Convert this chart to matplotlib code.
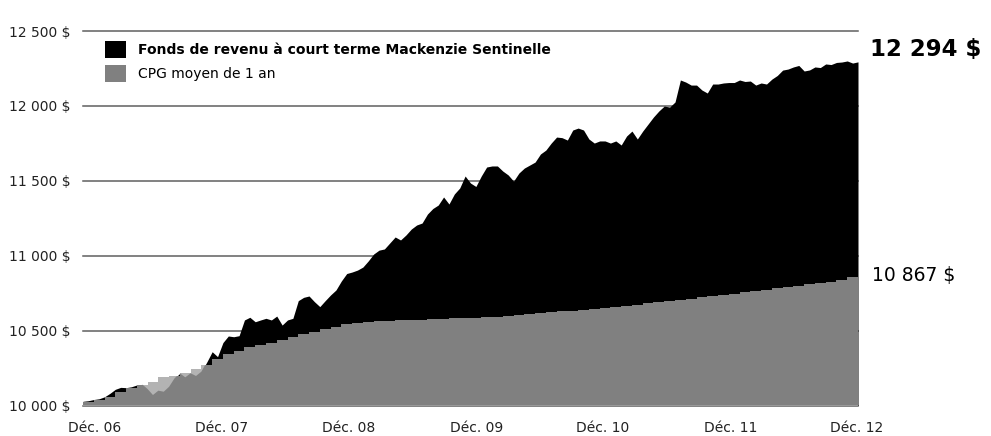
import numpy as np
import matplotlib
matplotlib.use("Agg")
import matplotlib.pyplot as plt
from matplotlib.patches import PathPatch, Patch

plt.rcParams["font.family"] = ["DejaVu Sans"]

# valeur du fonds, lue deux fois par mois (déc. 06 -> déc. 12)
fund_values = [
    10028, 10032, 10040, 10045, 10058, 10081, 10108, 10121, 10119, 10125,
    10137, 10141, 10110, 10070, 10099, 10092, 10125, 10181, 10215, 10188,
    10215, 10197, 10226, 10290, 10359, 10326, 10420, 10464, 10459, 10466,
    10571, 10589, 10559, 10571, 10582, 10571, 10597, 10537, 10571, 10582,
    10700, 10722, 10731, 10693, 10660, 10700, 10738, 10771, 10831, 10881,
    10891, 10904, 10924, 10965, 11011, 11037, 11045, 11085, 11125, 11105,
    11138, 11178, 11205, 11218, 11278, 11315, 11338, 11392, 11345, 11412,
    11452, 11532, 11485, 11462, 11532, 11592, 11599, 11599, 11565, 11539,
    11498, 11552, 11585, 11605, 11625, 11679, 11705, 11752, 11792, 11788,
    11772, 11839, 11852, 11839, 11779, 11752, 11766, 11766, 11752, 11766,
    11739, 11799, 11832, 11779, 11832, 11879, 11926, 11966, 11999, 11992,
    12026, 12173, 12159, 12139, 12139, 12106, 12086, 12146, 12146, 12153,
    12156, 12156, 12173, 12163, 12166, 12139, 12153, 12146, 12179, 12203,
    12239, 12246, 12260, 12270, 12233, 12240, 12260, 12256, 12280, 12276,
    12290, 12293, 12300, 12286, 12294,
]

# CPG moyen de 1 an, une marche par mois
cpg_values = [
    10022, 10038, 10055, 10092, 10115, 10137, 10159, 10188, 10200, 10215,
    10242, 10270, 10310, 10344, 10366, 10388, 10404, 10420, 10437, 10455,
    10475, 10493, 10509, 10526, 10542, 10552, 10558, 10562, 10565, 10568,
    10571, 10574, 10577, 10579, 10581, 10583, 10586, 10590, 10594, 10598,
    10603, 10609, 10615, 10622, 10628, 10634, 10640, 10645, 10650, 10658,
    10666, 10674, 10682, 10690, 10698, 10706, 10714, 10722, 10730, 10738,
    10747, 10756, 10765, 10774, 10783, 10792, 10800, 10809, 10818, 10827,
    10836, 10860,
]

y_ticks = [10000, 10500, 11000, 11500, 12000, 12500]
y_tick_labels = ["10 000 $", "10 500 $", "11 000 $", "11 500 $", "12 000 $", "12 500 $"]
x_tick_labels = ["Déc. 06", "Déc. 07", "Déc. 08", "Déc. 09", "Déc. 10", "Déc. 11", "Déc. 12"]
series_labels = ["Fonds de revenu à court terme Mackenzie Sentinelle", "CPG moyen de 1 an"]
end_labels = ["12 294 $", "10 867 $"]
end_values = [12294, 10867]

fig = plt.figure(figsize=(9.91, 4.36), dpi=100)
ax = fig.add_axes([83 / 991, 30.5 / 436, 775 / 991, 374.5 / 436])

months = np.arange(len(fund_values)) / 2
edges = np.arange(len(cpg_values) + 1)
ax.set_xlim(0, 72)
ax.set_ylim(10000, 12500)

for yv in y_ticks:
    ax.axhline(yv, color="#5f5f5f", lw=1.1, zorder=1, clip_on=False)

fund_poly = ax.fill_between(months, 10000, fund_values, color="black", lw=0, zorder=2)
ax.stairs(cpg_values, edges, baseline=10000, fill=True, color="#b3b3b3", lw=0, zorder=3)
dark = ax.stairs(cpg_values, edges, baseline=10000, fill=True, color="#808080", lw=0, zorder=4)
clip = PathPatch(fund_poly.get_paths()[0], transform=ax.transData)
dark.set_clip_path(clip)

for s in ax.spines.values():
    s.set_visible(False)
ax.set_yticks(y_ticks, y_tick_labels)
ax.set_xticks([1.1, 12.9, 24.7, 36.6, 48.3, 60.2, 71.9], x_tick_labels)
ax.tick_params(axis="y", length=0, pad=9, labelsize=10, labelcolor="#222222")
ax.tick_params(axis="x", length=0, pad=11, labelsize=10, labelcolor="#222222")

handles = [Patch(fc="black", ec="none"), Patch(fc="#808080", ec="none")]
leg = fig.legend(handles, series_labels, loc="upper left",
                 bbox_to_anchor=(105 / 991, 1 - 41 / 436), frameon=False,
                 fontsize=10, handlelength=1.5, handleheight=1.5,
                 handletextpad=0.85, labelspacing=0.5, borderpad=0, borderaxespad=0)
leg.get_texts()[0].set_fontweight("bold")

ax.annotate(end_labels[0], xy=(72, end_values[0]), xytext=(9, 9), textcoords="offset points",
            fontsize=16.5, fontweight="bold", va="center", ha="left", annotation_clip=False)
ax.annotate(end_labels[1], xy=(72, end_values[1]), xytext=(10, 0), textcoords="offset points",
            fontsize=13.5, va="center", ha="left", annotation_clip=False)

fig.savefig("out.png", dpi=100)
